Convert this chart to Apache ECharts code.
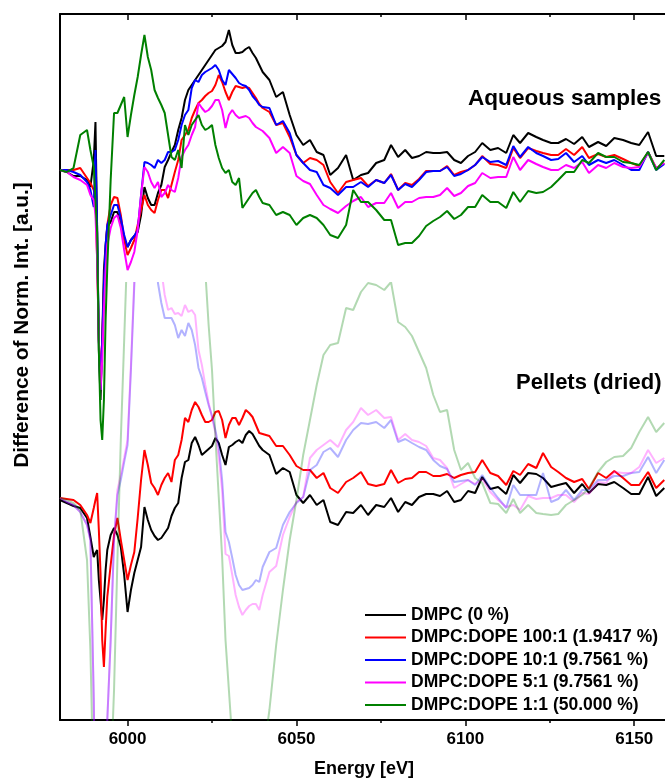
<!DOCTYPE html>
<html>
<head>
<meta charset="utf-8">
<script src="https://cdn.jsdelivr.net/npm/echarts@6/dist/echarts.min.js"></script>
<style>
  html, body { margin: 0; padding: 0; background: #ffffff; }
  #chart { width: 665px; height: 780px; }
</style>
</head>
<body>
<div id="chart"></div>
<script>
// Photon energy grid [eV] shared by all difference spectra
const energy = [
  5980, 5982, 5984, 5986, 5988, 5989,
  5990, 5990.5, 5991, 5991.5, 5992, 5992.5, 5993, 5993.5, 5994,
  5995, 5996, 5997, 5998, 5999, 6000, 6001, 6002, 6003, 6004, 6005, 6006, 6007, 6008, 6009,
  6010, 6011, 6012, 6013, 6014, 6015, 6016, 6017, 6018, 6019, 6020, 6021, 6022, 6023, 6024,
  6025, 6026, 6027, 6028, 6029, 6030, 6031, 6032, 6033, 6034, 6035, 6036, 6037, 6038, 6039, 6040,
  6042, 6044, 6046, 6048, 6050, 6052, 6054, 6056, 6058, 6060,
  6062.3, 6064.7, 6066.8, 6069.1, 6071.2, 6073.6, 6076.0, 6078.0, 6080.1, 6082.2,
  6084.2, 6086.3, 6088.4, 6090.5, 6092.5, 6094.6, 6096.7, 6098.7, 6100.8, 6102.9,
  6105.0, 6107.4, 6109.7, 6112.1, 6114.2, 6116.2, 6118.6, 6121.0, 6123.0, 6125.4,
  6127.5, 6129.8, 6132.2, 6134.6, 6136.6, 6139.3, 6141.7, 6144.1, 6146.7, 6149.1,
  6151.5, 6154.1, 6156.5, 6158.9
];

// Difference of normalised intensity (a.u. x 100), aqueous samples
const aqDMPC = [
  0, -2, -6, -6, -10, -17,
  10, 48, -60, -180, -230, -170, -100, -75, -57,
  -52, -42, -42, -55, -68, -77, -70, -66, -62, -45, -17, -28, -35, -35, -23,
  -15, 3, 10, 18, 25, 40, 52, 70, 80, 85, 90, 95, 100, 105, 110,
  115, 120, 122, 124, 128, 140, 125, 117, 117, 118, 121, 123, 117, 112, 105, 98,
  90, 73, 78, 55, 35, 25, 30, 18, 15, -5,
  2, 15, -10, -5, -3, 7, 10, 25, 13, 20,
  12, 14, 18, 17, 17, 18, 10, 7, 14, 18,
  27, 20, 22, 17, 35, 27, 37, 33, 30, 27,
  27, 31, 26, 33, 23, 28, 24, 32, 30, 27,
  25, 38, 14, 14
];
const aqDOPE100 = [
  0, 0, 0, 2, -8, -13,
  -20, -30, -90, -170, -210, -170, -120, -80, -55,
  -35, -27, -28, -45, -70, -85, -78, -70, -55, -40, -25, -35, -40, -43, -30,
  -20, -20, -28, -15, -2, 10, 30, 35, 40, 52, 60, 67, 70, 74, 77,
  79, 85, 95, 88, 78, 70, 78, 84, 83, 82, 83, 82, 77, 72, 66, 62,
  58, 45, 47, 33, 15, 7, 12, 10, 5, -12,
  -23, -12, -10, -8, -16, -10, -13, -4, -20, -13,
  -15, -9, -1, -1, -1, 4, -5, -2, 0, 5,
  14, 6, 5, 2, 22, 12, 22, 19, 17, 15,
  15, 21, 15, 23, 12, 16, 13, 15, 11, 7,
  4, 18, 2, 7
];
const aqDOPE10 = [
  0, 0, -2, -5, -12, -20,
  -37, 20, -60, -170, -220, -170, -115, -75, -55,
  -45, -35, -35, -48, -65, -77, -70, -66, -60, -25, 8, 7, 5, 2, 10,
  7, 10, 18, 18, 20, 30, 45, 55, 60, 82, 90, 88, 95, 98, 100,
  102, 105, 100, 90, 85, 100, 96, 92, 87, 85, 84, 80, 74, 70, 65, 63,
  62, 45, 49, 37, 15, 7, 0, -2, -15, -18,
  -25, -17, -17, -12, -17, -10, -13, -5, -20, -14,
  -17, -10, -2, -1, -1, 3, -6, -4, 0, 5,
  13, 8, 9, 5, 24, 13, 23, 17, 14, 10,
  11, 17, 8, 14, 5, 10, 7, 10, 5, 0,
  0, 18, 0, 6
];
const aqDOPE5 = [
  0, -2, -7, -10, -15, -25,
  -30, -45, -90, -170, -220, -190, -140, -100, -75,
  -58, -48, -45, -58, -80, -100, -92, -82, -60, -25, 3, -2, -12, -18, -12,
  -27, -23, -15, -20, -22, -8, 13, 20, 25, 35, 43, 67, 62, 58, 60,
  64, 70, 70, 60, 42, 55, 60, 55, 52, 53, 54, 52, 47, 43, 41, 39,
  32, 17, 23, 17, -6, -11, -14, -25, -35, -39,
  -43, -36, -31, -27, -37, -33, -33, -23, -38, -32,
  -32, -28, -27, -27, -25, -18, -26, -23, -16, -13,
  -3, -8, -7, -7, 13, 0, 10, 6, 3, 0,
  0, 5, 2, 8, -3, 5, 2, 7, 3, 2,
  3, 17, 2, 7
];
const aqDOPE1 = [
  0, -2, 2, 35, 40, 20,
  3, -30, -63, -180, -250, -270, -230, -150, -97,
  -10, 57, 57, 65, 73, 33, 55, 75, 93, 115, 135, 113, 100, 80, 72,
  65, 57, 35, 13, 10, 20, 2, 45, 35, 45, 50, 55, 45, 40, 42,
  45, 25, 12, 2, -3, 0, -12, -15, -8, -38, -33, -28, -23, -20, -27, -33,
  -35, -45, -42, -45, -55, -48, -45, -48, -55, -65,
  -68, -55, -20, -32, -32, -40, -50, -50, -75, -73,
  -73, -66, -56, -51, -47, -41, -49, -45, -37, -37,
  -25, -32, -32, -38, -22, -32, -21, -23, -22, -17,
  -10, -2, -2, 10, 7, 17, 13, 13, 8, 7,
  5, 18, 0, 10
];

// Difference of normalised intensity (a.u. x 100), dried pellets
const pelDMPC = [
  -2, -5, -8, -10, -20, -39,
  -59, -55, -52, -82, -102, -122, -102, -72, -52,
  -37, -30, -37, -49, -77, -114, -92, -75, -62, -49, -9, -22, -32, -38, -42,
  -40, -35, -30, -18, -10, -5, 20, 36, 38, 55, 61, 53, 43, 46, 49,
  52, 60, 55, 43, 33, 51, 53, 56, 58, 55, 63, 67, 64, 58, 52, 48,
  43, 24, 30, 26, 3, -5, 3, -7, -2, -24,
  -27, -14, -15, -7, -17, -7, -9, 0, -14, -4,
  -7, 1, 4, 4, 2, 7, -4, -2, 7, 5,
  21, 9, 11, 4, 23, 15, 25, 24, 20, 11,
  13, 15, 5, 14, 5, 14, 13, 16, 10, 4,
  4, 21, 2, 10
];
const pelDOPE100 = [
  0, -1, -2, -7, -17, -25,
  -10, -2, 5, -32, -75, -142, -169, -132, -99,
  -67, -37, -20, -42, -62, -82, -67, -54, -20, 18, 48, 33, 15, 10, 3,
  13, 20, 25, 16, 38, 43, 58, 80, 76, 88, 96, 91, 83, 76, 76,
  78, 86, 87, 78, 60, 73, 80, 80, 73, 80, 88, 85, 81, 73, 65, 64,
  62, 52, 52, 43, 32, 28, 28, 20, 25, 10,
  5, 16, 20, 26, 14, 12, 14, 28, 15, 19,
  20, 26, 26, 22, 22, 24, 20, 23, 25, 26,
  38, 25, 22, 13, 27, 23, 34, 30, 45, 31,
  26, 20, 16, 19, 9, 25, 20, 27, 20, 13,
  13, 26, 10, 18
];
const pelDOPE10 = [
  0, -4, -7, -14, -27, -42,
  -202, -322, -402, -452, -452, -402, -352, -282, -222,
  -142, -42, 3, 18, 36, 53, 128, 213, 298, 368, 418, 438, 418, 318, 215,
  195, 180, 180, 180, 173, 160, 168, 162, 175, 168, 153, 130, 120, 106, 93,
  82, 68, 51, 18, -34, -44, -60, -77, -87, -92, -91, -90, -87, -82, -84, -69,
  -54, -50, -27, -14, -5, 1, 28, 33, 46, 50,
  41, 58, 68, 75, 74, 76, 70, 78, 56, 59,
  55, 51, 48, 38, 32, 29, 16, 17, 18, 13,
  23, 10, 0, -10, 13, 3, 3, 3, 25, -4,
  -1, 8, -2, 8, 8, 18, 18, 22, 22, 25,
  26, 41, 25, 38
];
const pelDOPE5 = [
  0, -4, -7, -14, -27, -42,
  -202, -322, -402, -452, -452, -402, -352, -282, -222,
  -142, -42, 8, 23, 40, 58, 133, 218, 303, 373, 423, 443, 428, 368, 258,
  228, 203, 188, 190, 184, 185, 182, 193, 186, 188, 183, 148, 133, 113, 95,
  81, 65, 41, 8, -56, -58, -77, -97, -109, -117, -112, -108, -106, -106, -112, -97,
  -74, -68, -37, -19, -4, 1, 40, 48, 53, 58,
  51, 68, 76, 90, 83, 88, 80, 81, 58, 64,
  58, 56, 52, 40, 38, 30, 10, 14, 18, 14,
  19, 6, -2, -9, -7, -12, 2, -1, 0, 0,
  3, 3, -4, 5, 4, 16, 15, 26, 25, 25,
  31, 48, 35, 40
];
const pelDOPE1 = [
  0, -2, -5, -12, -62, -152,
  -302, -402, -452, -502, -502, -502, -452, -402, -352,
  -282, -192, -62, 58, 158, 258, 338, 408, 468, 528, 560, 590, 600, 610, 610,
  600, 600, 590, 580, 560, 540, 520, 508, 468, 413, 368, 313, 270, 228, 173,
  128, 61, 1, -59, -142, -192, -242, -302, -352, -382, -402, -402, -382, -352, -302, -262,
  -212, -147, -92, -42, -2, 43, 78, 113, 143, 153,
  155, 190, 188, 206, 215, 213, 208, 216, 176, 171,
  162, 146, 130, 103, 86, 88, 48, 28, 35, 20,
  15, -5, -6, -15, -1, -15, -7, -15, -16, -17,
  -16, -7, -2, 3, 10, 26, 36, 41, 42, 50,
  66, 81, 66, 75
];

const sampleNames = [
  'DMPC (0 %)',
  'DMPC:DOPE 100:1 (1.9417 %)',
  'DMPC:DOPE 10:1 (9.7561 %)',
  'DMPC:DOPE 5:1 (9.7561 %)',
  'DMPC:DOPE 1:1 (50.000 %)'
];
const sampleColors = ['#000000', '#ff0000', '#0000ff', '#ff00ff', '#008000'];
const aqueousSets = [aqDMPC, aqDOPE100, aqDOPE10, aqDOPE5, aqDOPE1];
const pelletSets = [pelDMPC, pelDOPE100, pelDOPE10, pelDOPE5, pelDOPE1];
const majorTicks = [6000, 6050, 6100, 6150];
const minorTicks = [6025, 6075, 6125];

// vertical stacking shifts of the two sample groups
const AQUEOUS_SHIFT = 550;
const PELLET_SHIFT = 222;

const FONT = '"Liberation Sans", Arial, Helvetica, sans-serif';
const X_MIN = 5980, X_MAX = 6160;

function toPairs(values, shift) {
  return energy.map((e, i) => [e, values[i] + shift]);
}

const series = [];
// dried pellets (lower panel, clipped to its own frame)
pelletSets.forEach((vals, k) => {
  series.push({
    type: 'line',
    name: 'Pellet ' + sampleNames[k],
    xAxisIndex: 4,
    yAxisIndex: 1,
    data: toPairs(vals, PELLET_SHIFT),
    symbol: 'none',
    showSymbol: false,
    clip: true,
    z: 2,
    lineStyle: { color: sampleColors[k], width: 2, opacity: k >= 2 ? 0.3 : 1 },
    itemStyle: { color: sampleColors[k] }
  });
});
// aqueous samples (full frame)
aqueousSets.forEach((vals, k) => {
  series.push({
    type: 'line',
    name: sampleNames[k],
    xAxisIndex: 0,
    yAxisIndex: 0,
    data: toPairs(vals, AQUEOUS_SHIFT),
    symbol: 'none',
    showSymbol: false,
    clip: true,
    z: 3,
    lineStyle: { color: sampleColors[k], width: 2 },
    itemStyle: { color: sampleColors[k] }
  });
});

const baseX = {
  type: 'value', min: X_MIN, max: X_MAX, gridIndex: 0,
  splitLine: { show: false },
  axisLabel: { show: false },
  axisLine: { show: false, onZero: false }
};

const option = {
  animation: false,
  backgroundColor: '#ffffff',
  grid: [
    { left: 60, top: 14, width: 608, height: 706, containLabel: false, outerBoundsMode: 'none' },
    { left: 60, top: 283, width: 608, height: 437, containLabel: false, outerBoundsMode: 'none' }
  ],
  xAxis: [
    Object.assign({}, baseX, {
      position: 'bottom',
      axisLine: { show: true, onZero: false, lineStyle: { color: '#000', width: 2 } },
      axisTick: { show: true, inside: false, length: 6, lineStyle: { color: '#000', width: 1.5 }, customValues: majorTicks },
      axisLabel: {
        show: true, customValues: majorTicks, color: '#000', fontFamily: FONT,
        fontWeight: 'bold', fontSize: 17, margin: 11,
        formatter: (v) => String(v)
      },
      name: 'Energy [eV]',
      nameLocation: 'middle',
      nameGap: 40,
      nameTextStyle: { color: '#000', fontFamily: FONT, fontWeight: 'bold', fontSize: 18 }
    }),
    Object.assign({}, baseX, {
      position: 'bottom',
      axisTick: { show: true, inside: false, length: 3, lineStyle: { color: '#000', width: 1.5 }, customValues: minorTicks }
    }),
    Object.assign({}, baseX, {
      position: 'top',
      axisLine: { show: true, onZero: false, lineStyle: { color: '#000', width: 2 } },
      axisTick: { show: true, inside: true, length: 6, lineStyle: { color: '#000', width: 1.5 }, customValues: majorTicks }
    }),
    Object.assign({}, baseX, {
      position: 'top',
      axisTick: { show: true, inside: true, length: 3, lineStyle: { color: '#000', width: 1.5 }, customValues: minorTicks }
    }),
    { type: 'value', gridIndex: 1, min: X_MIN, max: X_MAX, show: false }
  ],
  yAxis: [
    {
      type: 'value', gridIndex: 0, min: 0, max: 706,
      axisLine: { show: true, onZero: false, lineStyle: { color: '#000', width: 2 } },
      axisTick: { show: false },
      axisLabel: { show: false },
      splitLine: { show: false }
    },
    { type: 'value', gridIndex: 1, min: 0, max: 437, show: false }
  ],
  legend: {
    data: sampleNames,
    orient: 'vertical',
    left: 360,
    top: 601,
    icon: 'rect',
    itemWidth: 41,
    itemHeight: 2,
    itemGap: 4.5,
    selectedMode: false,
    textStyle: { color: '#000', fontFamily: FONT, fontWeight: 'bold', fontSize: 17.5, lineHeight: 18 }
  },
  graphic: [
    {
      type: 'text', left: 468, top: 87,
      style: { text: 'Aqueous samples', fill: '#000', font: 'bold 22.6px ' + FONT }
    },
    {
      type: 'text', left: 516, top: 372,
      style: { text: 'Pellets (dried)', fill: '#000', font: 'bold 22px ' + FONT }
    },
    {
      type: 'text', x: 22, y: 325, rotation: Math.PI / 2,
      style: {
        text: 'Difference of Norm. Int. [a.u.]', fill: '#000', font: 'bold 20.8px ' + FONT,
        align: 'center', verticalAlign: 'middle'
      }
    }
  ],
  series: series
};

const chart = echarts.init(document.getElementById('chart'), null, { renderer: 'canvas' });
chart.setOption(option);
</script>
</body>
</html>
